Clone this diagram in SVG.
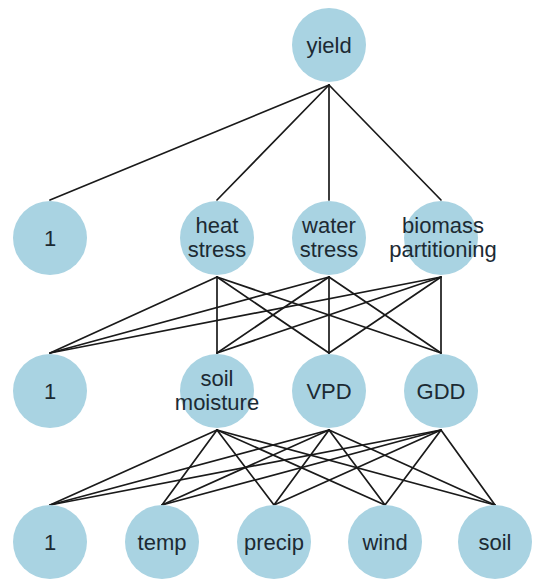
<svg xmlns="http://www.w3.org/2000/svg" width="537" height="583" viewBox="0 0 537 583">
<style>
.n circle{fill:#a9d3e2}
.n text{font-family:"Liberation Sans",Arial,sans-serif;font-size:22px;fill:#1c2a33;text-anchor:middle}
#edges line{stroke:#1a1a1a;stroke-width:1.7;stroke-linecap:round}
</style>
<rect width="537" height="583" fill="#ffffff"/>
<g id="edges">
<line x1="329" y1="85" x2="50" y2="200"/>
<line x1="329" y1="85" x2="217" y2="200"/>
<line x1="329" y1="85" x2="329" y2="200"/>
<line x1="329" y1="85" x2="441" y2="200"/>
<line x1="217" y1="277" x2="50" y2="353"/>
<line x1="217" y1="277" x2="217" y2="353"/>
<line x1="217" y1="277" x2="329" y2="353"/>
<line x1="217" y1="277" x2="441" y2="353"/>
<line x1="329" y1="277" x2="50" y2="353"/>
<line x1="329" y1="277" x2="217" y2="353"/>
<line x1="329" y1="277" x2="329" y2="353"/>
<line x1="329" y1="277" x2="441" y2="353"/>
<line x1="441" y1="277" x2="50" y2="353"/>
<line x1="441" y1="277" x2="217" y2="353"/>
<line x1="441" y1="277" x2="329" y2="353"/>
<line x1="441" y1="277" x2="441" y2="353"/>
<line x1="217" y1="430" x2="50" y2="505"/>
<line x1="217" y1="430" x2="162" y2="505"/>
<line x1="217" y1="430" x2="274" y2="505"/>
<line x1="217" y1="430" x2="385" y2="505"/>
<line x1="217" y1="430" x2="495" y2="505"/>
<line x1="329" y1="430" x2="50" y2="505"/>
<line x1="329" y1="430" x2="162" y2="505"/>
<line x1="329" y1="430" x2="274" y2="505"/>
<line x1="329" y1="430" x2="385" y2="505"/>
<line x1="329" y1="430" x2="495" y2="505"/>
<line x1="441" y1="430" x2="50" y2="505"/>
<line x1="441" y1="430" x2="162" y2="505"/>
<line x1="441" y1="430" x2="274" y2="505"/>
<line x1="441" y1="430" x2="385" y2="505"/>
<line x1="441" y1="430" x2="495" y2="505"/>
</g>
<g id="yield" class="n"><circle cx="329" cy="45" r="37"/><text x="329" y="53">yield</text></g>
<g id="one1" class="n"><circle cx="50" cy="238" r="37"/><text x="50" y="246">1</text></g>
<g id="heat_stress" class="n"><circle cx="217" cy="238" r="37"/><text x="217" y="233">heat</text><text x="217" y="257">stress</text></g>
<g id="water_stress" class="n"><circle cx="329" cy="238" r="37"/><text x="329" y="233">water</text><text x="329" y="257">stress</text></g>
<g id="biomass_partitioning" class="n"><circle cx="441" cy="238" r="37"/><text x="443" y="233">biomass</text><text x="443" y="257">partitioning</text></g>
<g id="one2" class="n"><circle cx="50" cy="391" r="37"/><text x="50" y="399">1</text></g>
<g id="soil_moisture" class="n"><circle cx="217" cy="391" r="37"/><text x="217" y="386">soil</text><text x="217" y="410">moisture</text></g>
<g id="VPD" class="n"><circle cx="329" cy="391" r="37"/><text x="329" y="399">VPD</text></g>
<g id="GDD" class="n"><circle cx="441" cy="391" r="37"/><text x="441" y="399">GDD</text></g>
<g id="one3" class="n"><circle cx="50" cy="542" r="37"/><text x="50" y="550">1</text></g>
<g id="temp" class="n"><circle cx="162" cy="542" r="37"/><text x="162" y="550">temp</text></g>
<g id="precip" class="n"><circle cx="274" cy="542" r="37"/><text x="274" y="550">precip</text></g>
<g id="wind" class="n"><circle cx="385" cy="542" r="37"/><text x="385" y="550">wind</text></g>
<g id="soil" class="n"><circle cx="495" cy="542" r="37"/><text x="495" y="550">soil</text></g>
</svg>
